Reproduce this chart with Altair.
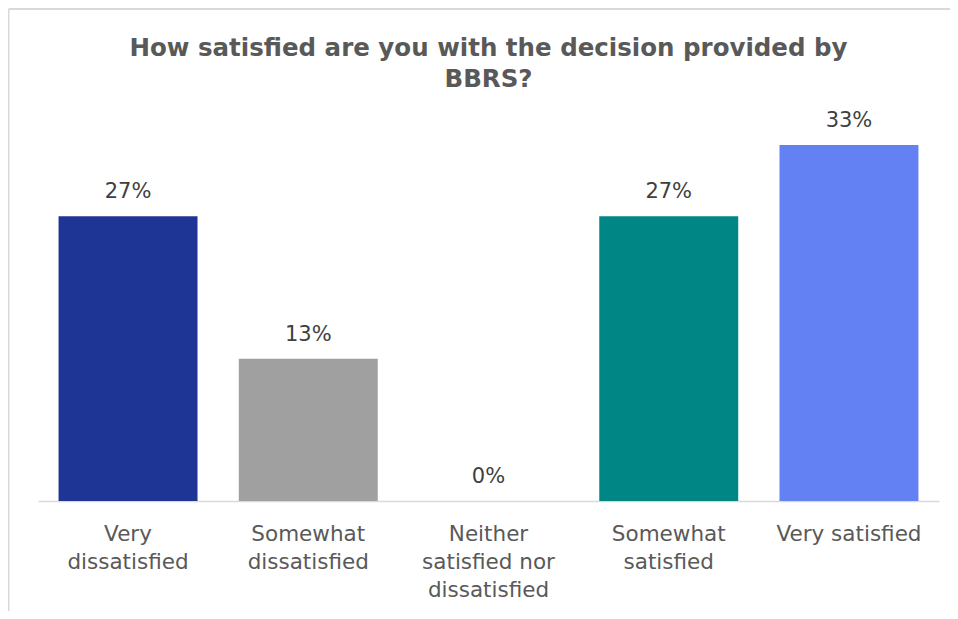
import altair as alt
import pandas as pd

categories = ["Very dissatisfied", "Somewhat dissatisfied",
              "Neither satisfied nor dissatisfied", "Somewhat satisfied", "Very satisfied"]
wrapped = ["Very|dissatisfied", "Somewhat|dissatisfied",
           "Neither|satisfied nor|dissatisfied", "Somewhat|satisfied", "Very satisfied"]
values = [26.67, 13.33, 0.0, 26.67, 33.33]
colors = ["#1F3596", "#A0A0A0", "#7F7F7F", "#008785", "#6381F3"]

title_lines = ["How satisfied are you with the decision provided by", "BBRS?"]

FONT = "DejaVu Sans"
TXT = "#595959"

df = pd.DataFrame({"cat": wrapped, "name": categories, "value": values, "color": colors})

base = alt.Chart(df).encode(
    x=alt.X("cat:N", sort=None,
            scale=alt.Scale(paddingInner=0.229, paddingOuter=0.114),
            axis=alt.Axis(title=None, labelAngle=0, ticks=False, domain=True,
                          domainColor="#D9D9D9", domainWidth=1.5,
                          labelExpr="split(datum.label, '|')",
                          labelFont=FONT, labelFontSize=21.5, labelColor=TXT,
                          labelPadding=22, labelLineHeight=28, labelBaseline="top",
                          grid=False)),
)

bars = base.mark_bar().encode(
    y=alt.Y("value:Q", scale=alt.Scale(domain=[0, 34.93], nice=False), axis=None),
    color=alt.Color("color:N", scale=None),
)

labels = base.mark_text(baseline="bottom", dy=-14, font=FONT, fontSize=21, color="#404040").encode(
    y=alt.Y("value:Q"),
    text=alt.Text("label:N"),
).transform_calculate(label="format(datum.value, '.0f') + '%'")

frame = alt.Chart(pd.DataFrame({"k": [0]})).mark_rule(color="#D9D9D9", strokeWidth=2).encode(
    x=alt.value(-29.5), y=alt.value(-119), y2=alt.value(495)
)
frame_top = alt.Chart(pd.DataFrame({"k": [0]})).mark_rule(color="#D9D9D9", strokeWidth=2).encode(
    x=alt.value(-29.5), x2=alt.value(945), y=alt.value(-119)
)

chart = alt.layer(bars, labels, frame, frame_top).properties(
    width=901, height=373,
    title=alt.TitleParams(text=title_lines, font=FONT, fontSize=24.5, fontWeight="bold",
                          color=TXT, anchor="middle", lineHeight=31, offset=-84),
    autosize=alt.AutoSizeParams(type="none"),
    padding={"left": 30, "top": 120, "right": 11, "bottom": 110},
).configure_view(stroke=None)

chart.save("out.html", embed_options={"renderer": "svg", "actions": False})
